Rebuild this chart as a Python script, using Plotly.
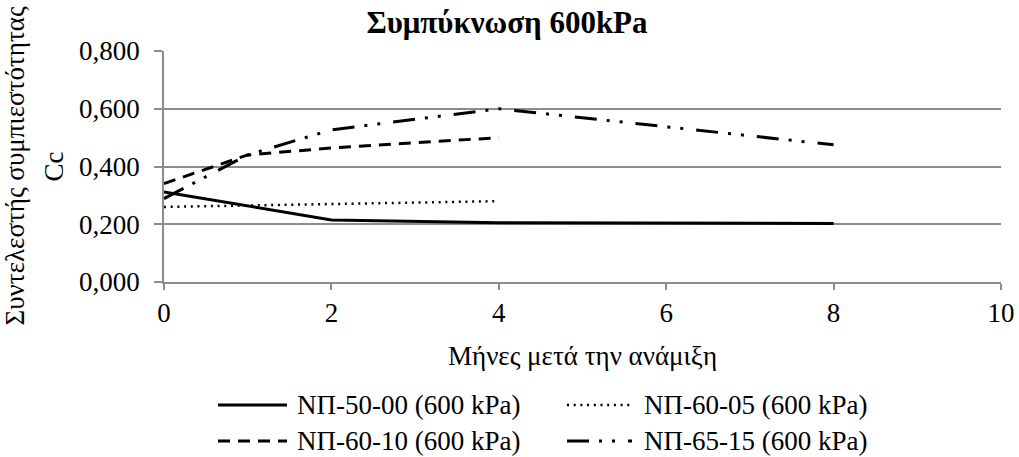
import plotly.graph_objects as go

# Months after mixing and compression index Cc for each mix
series_names = [
    "ΝΠ-50-00 (600 kPa)",
    "ΝΠ-60-05 (600 kPa)",
    "ΝΠ-60-10 (600 kPa)",
    "ΝΠ-65-15 (600 kPa)",
]
months_50_00 = [0, 2, 4, 8]
cc_50_00 = [0.312, 0.215, 0.205, 0.203]

months_60_05 = [0, 2, 4]
cc_60_05 = [0.260, 0.270, 0.280]

months_60_10 = [0, 1, 2, 4]
cc_60_10 = [0.341, 0.440, 0.464, 0.500]

months_65_15 = [0, 1, 2, 4, 8]
cc_65_15 = [0.289, 0.440, 0.527, 0.600, 0.475]

x_ticks = [0, 2, 4, 6, 8, 10]
y_ticks = [0.0, 0.2, 0.4, 0.6, 0.8]
y_tick_labels = ["0,000", "0,200", "0,400", "0,600", "0,800"]

title_text = "Συμπύκνωση 600kPa"
x_title = "Μήνες μετά την ανάμιξη"
y_title_lines = ["Συντελεστής συμπιεστότητας", "Cc"]

FONT = "Liberation Serif"
FS = 27
GRID = "#8c8c8c"

# line styles per series: (dash pattern, width)
styles = [
    ("solid", 3),
    ("2px,4.7px", 2.5),
    ("12px,8px", 3),
    ("22px,10px,3px,10px,3px,13px", 3),
]

data = [
    (months_50_00, cc_50_00),
    (months_60_05, cc_60_05),
    (months_60_10, cc_60_10),
    (months_65_15, cc_65_15),
]

fig = go.Figure()
for name, (xs, ys), (dash, w) in zip(series_names, data, styles):
    fig.add_trace(go.Scatter(
        x=xs, y=ys, mode="lines", name=name,
        line=dict(color="black", width=w, dash=dash),
        showlegend=False,
    ))

W, H = 1019, 457
L, R, T, B = 164, 18, 51, 175
pw, ph = W - L - R, H - T - B


def px_x(p):
    return (p - L) / pw


def px_y(p):
    return (H - B - p) / ph


# legend drawn below the plot: two columns, two rows
legend_cols = [(218, 287, 295), (567, 632, 642)]
legend_rows = [405, 441]
for i, (name, (dash, w)) in enumerate(zip(series_names, styles)):
    row, col = divmod(i, 2)
    x0, x1, xt = legend_cols[col]
    yy = px_y(legend_rows[row])
    fig.add_shape(type="line", xref="paper", yref="paper",
                  x0=px_x(x0), x1=px_x(x1), y0=yy, y1=yy,
                  line=dict(color="black", width=w, dash=dash))
    fig.add_annotation(xref="paper", yref="paper", x=px_x(xt), y=yy,
                       text=name, showarrow=False, xanchor="left",
                       yanchor="middle",
                       font=dict(family=FONT, size=FS, color="black"))

# axis titles
fig.add_annotation(xref="paper", yref="paper", x=0.5, y=px_y(356),
                   text=x_title, showarrow=False, xanchor="center",
                   yanchor="middle",
                   font=dict(family=FONT, size=FS, color="black"))
for line, cx in zip(y_title_lines, [14, 53]):
    fig.add_annotation(xref="paper", yref="paper", x=px_x(cx), y=0.5,
                       text=line, showarrow=False, textangle=-90,
                       xanchor="center", yanchor="middle",
                       font=dict(family=FONT, size=FS, color="black"))

fig.update_layout(
    width=W, height=H,
    margin=dict(l=L, r=R, t=T, b=B),
    paper_bgcolor="white", plot_bgcolor="white",
    title=dict(text="<b>" + title_text + "</b>", x=507 / W, xanchor="center",
               y=1 - 22 / H, yanchor="middle",
               font=dict(family=FONT, size=31, color="black")),
    font=dict(family=FONT, size=FS, color="black"),
)
fig.update_xaxes(
    range=[0, 10], tickvals=x_ticks, ticktext=[str(v) for v in x_ticks],
    showgrid=False, zeroline=False, showline=True, linecolor=GRID,
    linewidth=1.5, ticks="outside", ticklen=6, tickcolor=GRID, tickwidth=1.5,
    ticklabelstandoff=0, automargin=False,
    tickfont=dict(family=FONT, size=FS, color="black"),
)
fig.update_yaxes(
    range=[0, 0.8], tickvals=y_ticks, ticktext=y_tick_labels,
    showgrid=True, gridcolor=GRID, gridwidth=1.5, zeroline=False,
    showline=True, linecolor=GRID, linewidth=1.5, ticks="outside",
    ticklen=8, tickcolor=GRID, tickwidth=1.5, ticklabelstandoff=9,
    automargin=False,
    tickfont=dict(family=FONT, size=FS, color="black"),
)

fig.write_html("out.html")
